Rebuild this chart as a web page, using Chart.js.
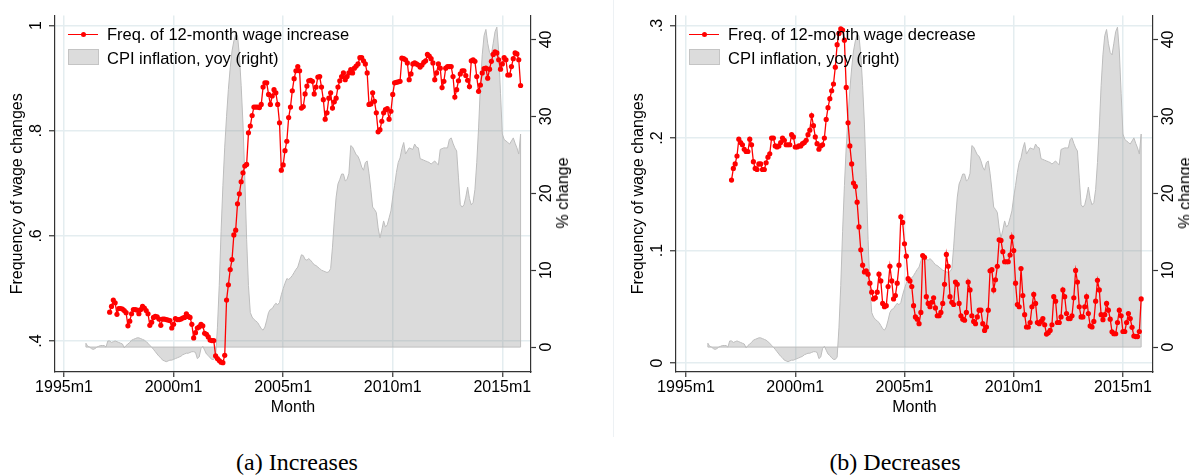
<!DOCTYPE html>
<html>
<head>
<meta charset="utf-8">
<script src="https://cdn.jsdelivr.net/npm/chart.js@4.4.1/dist/chart.umd.min.js"></script>
<style>
  html, body { margin: 0; padding: 0; background: #fff; overflow: hidden; width: 1189px; height: 475px; }
  canvas { position: absolute; top: 0; }
  #chartA { left: 0; }
  #chartB { left: 621px; }
  .legend { position: absolute; font: 16.5px "Liberation Sans", Arial, sans-serif; color: #000; white-space: nowrap; }
  .lg-line { position: absolute; height: 1.3px; width: 30px; background: #ff0000; }
  .lg-line::after { content: ""; position: absolute; left: 12.5px; top: -2px; width: 5px; height: 5px; border-radius: 50%; background: #ff0000; }
  .lg-box { position: absolute; width: 29px; height: 14px; background: #dcdcdc; border: 1px solid #c4c4c4; }
  .lg-text { position: absolute; transform: translateY(-50%); }
  .ytitle { position: absolute; font: 16px "Liberation Sans", Arial, sans-serif; color: #000; white-space: nowrap; transform: translate(-50%, -50%) rotate(-90deg); }
  .caption { position: absolute; top: 462px; transform: translate(-50%, -50%); font: 24px "Liberation Serif", "Times New Roman", serif; color: #000; white-space: nowrap; }
  .divider { position: absolute; left: 613px; top: 0; width: 1px; height: 437px; background: #edf1f4; }
</style>
</head>
<body>
<div class="divider"></div>
<canvas id="chartA" width="600" height="430"></canvas>
<canvas id="chartB" width="568" height="430"></canvas>
<div id="legendA" class="legend"></div>
<div id="legendB" class="legend"></div>
<div class="ytitle" style="left:563px; top:193px;">% change</div>
<div class="ytitle" style="left:1185px; top:193px;">% change</div>
<div class="caption" style="left:297px;">(a) Increases</div>
<div class="caption" style="left:895px;">(b) Decreases</div>

<script>
// ---- data (monthly) ----
const xTickLabels = ['1995m1', '2000m1', '2005m1', '2010m1', '2015m1'];

const cpiStart = '1996m1';
const cpiInflation = [
  0.5, 0.1, 0.0, -0.2, -0.3, -0.2, 0.0, 0.1, 0.2, 0.2, 0.2, 0.0,
  0.8, 0.8, 0.6, 0.7, 0.8, 0.7, 0.6, 0.5, 0.4, -0.1, 0.2, 0.4,
  0.6, 0.9, 1.0, 1.1, 1.2, 1.2, 1.1, 1.0, 0.9, 0.7, 0.5, 0.2,
  0.0, -0.3, -0.6, -0.9, -1.2, -1.4, -1.7, -1.8, -1.9, -1.8, -1.7, -1.7,
  -1.6, -1.5, -1.4, -1.3, -1.2, -1.0, -0.9, -0.8, -0.8, -0.7, -0.6, -0.6,
  -0.7, -1.5, -1.3, -0.2, 0.1, -0.4, -0.9, -1.1, -1.4, -1.6, -1.6, -1.3,
  2.5, 8, 15, 21, 26, 30, 33.5, 36.3, 38.5, 39.8, 40.6, 40.5,
  38, 34, 29, 22, 14, 8, 4.5, 3.9, 3.6, 3.4, 3.2, 2.8,
  2.4, 2.2, 2.6, 3.5, 4.5, 4.9, 5.0, 5.4, 5.7, 5.5, 5.8, 6.8,
  7.6, 8.3, 8.9, 8.8, 9.0, 9.3, 9.7, 10.1, 10.4, 11.2, 12.0, 11.9,
  11.4, 11.3, 11.5, 11.3, 11.0, 10.7, 10.6, 10.4, 10.2, 10.0, 9.9, 9.8,
  9.7, 9.8, 10.2, 13.0, 16.5, 19.5, 21.2, 21.8, 22.5, 22.5, 21.6, 21.8,
  22.6, 26.2, 26.0, 25.5, 25.0, 24.8, 24.2, 23.4, 23.0, 24.0, 24.2, 22.6,
  20.5, 18.2, 17.9, 17.5, 15.5, 14.2, 15.2, 16.4, 15.6, 15.9, 16.8, 17.7,
  19.5, 21.0, 22.7, 24.0, 24.6, 25.8, 26.6, 25.1, 25.5, 25.9, 25.8, 25.7,
  26.4, 26.0, 25.9, 24.5, 24.4, 24.3, 24.2, 24.1, 24.0, 23.8, 24.0, 24.2,
  23.9, 23.7, 25.7, 25.8, 25.9, 25.9, 25.9, 27.0, 27.2, 26.5, 25.9, 25.5,
  22.0, 18.5, 18.2, 18.5, 19.5, 20.8, 19.3, 18.5, 18.8, 20.5, 24.0, 28.5,
  34.0, 38.0, 40.5, 41.3, 39.5, 38.3, 38.0, 39.5, 41.0, 41.6, 38.5, 33.0,
  27.7, 27.0, 26.8, 26.6, 26.4, 26.8, 27.2, 26.5, 25.9, 25.1, 27.7
];

const wageStart = '1997m2';
const freqIncrease = [
  .455, .466, .478, .473, .451, .462, .462, .461, .458, .454, .429,
  .438, .452, .460, .460, .459, .452, .460, .466, .463, .458, .452, .430,
  .436, .445, .447, .446, .442, .430, .442, .442, .441, .440, .439, .425,
  .432, .443, .441, .441, .442, .444, .445, .452, .447, .445, .432, .406,
  .416, .425, .427, .432, .429, .415, .413, .408, .402, .401, .401, .372,
  .367, .363, .360, .359, .373, .478, .507, .536, .555, .602, .611, .661,
  .680, .703, .720, .733, .736, .796, .809, .829, .845, .845, .845, .844,
  .850, .883, .891, .891, .869, .850, .866, .878, .872, .850, .815, .725,
  .735, .762, .780, .825, .845, .876, .899, .914, .922, .914, .843, .846,
  .870, .885, .895, .896, .894, .870, .883, .902, .903, .883, .859, .822,
  .834, .862, .872, .843, .855, .862, .883, .895, .903, .910, .897, .903,
  .910, .916, .910, .919, .923, .927, .939, .939, .933, .927, .910, .850,
  .851, .872, .856, .834, .798, .802, .818, .834, .840, .842, .822, .837,
  .869, .891, .892, .893, .894, .938, .937, .935, .929, .897, .908, .927,
  .929, .927, .925, .921, .925, .930, .933, .945, .942, .937, .929, .897,
  .910, .927, .919, .882, .894, .919, .922, .922, .922, .903, .864, .878,
  .895, .908, .914, .914, .905, .896, .884, .933, .935, .932, .903, .875,
  .887, .910, .918, .919, .900, .917, .932, .945, .950, .948, .935, .917,
  .927, .939, .935, .906, .906, .922, .937, .948, .946, .935, .886
];

const freqDecrease = [
  .1626, .173, .177, .184, .199, .196, .194, .190, .188, .188, .199,
  .194, .179, .173, .172, .177, .177, .172, .172, .178, .183, .186, .200,
  .200, .193, .192, .193, .196, .200, .198, .194, .194, .194, .203, .201,
  .192, .192, .193, .193, .195, .196, .198, .203, .207, .220, .211, .201,
  .195, .190, .193, .194, .200, .2165, .227, .235, .242, .248, .263, .283,
  .293, .297, .296, .287, .245, .2135, .193, .177, .160, .157, .143, .121,
  .1006, .087, .081, .082, .079, .071, .063, .057, .058, .063, .079, .073,
  .053, .050, .051, .068, .086, .073, .057, .060, .071, .087, .130, .125,
  .106, .095, .075, .073, .068, .051, .041, .039, .035, .045, .0955, .094,
  .059, .053, .050, .054, .058, .049, .042, .042, .045, .053, .070, .0965,
  .086, .059, .054, .052, .072, .070, .053, .042, .039, .038, .045, .072,
  .065, .042, .037, .035, .041, .047, .047, .035, .029, .032, .047, .082,
  .083, .065, .074, .086, .1095, .109, .099, .090, .090, .090, .096, .112,
  .100, .071, .052, .050, .084, .060, .043, .032, .032, .036, .050, .061,
  .053, .036, .035, .037, .0395, .034, .0257, .027, .029, .034, .059, .055,
  .036, .036, .041, .065, .059, .044, .0395, .0395, .042, .058, .0823, .072,
  .050, .041, .041, .050, .059, .044, .033, .032, .037, .055, .0735, .065,
  .043, .0385, .043, .053, .047, .039, .0277, .026, .026, .036, .047, .042,
  .028, .028, .036, .044, .0395, .0317, .024, .0235, .0235, .028, .057
];

const cpiTicks = [0, 10, 20, 30, 40];
const incTicks = [0.4, 0.6, 0.8, 1];
const incTickLabels = ['.4', '.6', '.8', '1'];
const decTicks = [0, 0.1, 0.2, 0.3];
const decTickLabels = ['0', '.1', '.2', '.3'];

// Stata style monthly date: months since 1960m1
function tm(s) {
  const parts = s.split('m').map(Number);
  return (parts[0] - 1960) * 12 + parts[1] - 1;
}
function toPoints(start, values) {
  const t0 = tm(start);
  return values.map((v, i) => ({ x: t0 + i, y: v }));
}

const FONT = '"Liberation Sans", Arial, sans-serif';
const AXIS = '#333333';
const GRID = '#e4edf0';
const xTickVals = xTickLabels.map(tm);

// close the outline of the area along its zero base, like Stata does
const areaOutline = {
  id: 'areaOutline',
  afterDatasetDraw(chart, args) {
    if (args.index !== 1) return;
    const pts = args.meta.data;
    if (!pts.length) return;
    const base = chart.scales.y1.getPixelForValue(0);
    const first = pts[0], last = pts[pts.length - 1];
    const ctx = chart.ctx;
    ctx.save();
    ctx.strokeStyle = '#bdbdbd';
    ctx.lineWidth = 1;
    ctx.beginPath();
    ctx.moveTo(last.x, last.y);
    ctx.lineTo(last.x, base);
    ctx.lineTo(first.x, base);
    ctx.lineTo(first.x, first.y);
    ctx.stroke();
    ctx.restore();
  }
};

function makeChart(id, o) {
  return new Chart(document.getElementById(id), {
    type: 'line',
    data: {
      datasets: [
        {
          label: o.wageLabel,
          data: toPoints(wageStart, o.wage),
          yAxisID: 'y',
          borderColor: '#ff0000',
          borderWidth: 1.3,
          pointRadius: 2.6,
          pointBackgroundColor: '#ff0000',
          pointBorderWidth: 0,
          fill: false,
          order: 1
        },
        {
          label: 'CPI inflation, yoy (right)',
          data: toPoints(cpiStart, cpiInflation),
          yAxisID: 'y1',
          borderColor: '#bdbdbd',
          borderWidth: 1,
          backgroundColor: 'rgba(140,140,140,0.31)',
          pointRadius: 0,
          fill: 'origin',
          order: 2
        }
      ]
    },
    plugins: [areaOutline],
    options: {
      responsive: false,
      devicePixelRatio: 1,
      animation: false,
      layout: { padding: { top: 14, left: 0, right: 0, bottom: 0 } },
      plugins: { legend: { display: false }, tooltip: { enabled: false } },
      scales: {
        x: {
          type: 'linear',
          min: o.xMin,
          max: o.xMax,
          afterFit: s => { s.height = 58; },
          afterBuildTicks: s => { s.ticks = xTickVals.map(v => ({ value: v })); },
          ticks: {
            callback: v => xTickLabels[xTickVals.indexOf(v)],
            font: { family: FONT, size: 16 },
            color: '#000',
            padding: 1,
            minRotation: 0,
            maxRotation: 0,
            autoSkip: false
          },
          grid: { color: GRID, lineWidth: 1.5, tickColor: AXIS, tickLength: 5, tickWidth: 1.2 },
          border: { color: AXIS, width: 1.2 },
          title: { display: true, text: 'Month', color: '#000', font: { family: FONT, size: 16 }, padding: { top: 0, bottom: 13 } }
        },
        y: {
          position: 'left',
          min: o.yMin,
          max: o.yMax,
          afterFit: s => { s.width = 55; },
          afterBuildTicks: s => { s.ticks = o.yTicks.map(v => ({ value: v })); },
          ticks: {
            callback: v => o.yTickLabels[o.yTicks.indexOf(v)],
            font: { family: FONT, size: 16 },
            color: '#000',
            minRotation: 90,
            maxRotation: 90,
            crossAlign: 'center',
            padding: 6
          },
          grid: { color: GRID, lineWidth: 1.5, tickColor: AXIS, tickLength: 6, tickWidth: 1.2 },
          border: { color: AXIS, width: 1.2 },
          title: { display: true, text: 'Frequency of wage changes', color: '#000', font: { family: FONT, size: 16 }, padding: { top: 8, bottom: 0 } }
        },
        y1: {
          position: 'right',
          min: -3.24,
          max: 43.1,
          afterFit: s => { s.width = o.rightWidth; },
          afterBuildTicks: s => { s.ticks = cpiTicks.map(v => ({ value: v })); },
          ticks: {
            callback: v => String(v),
            font: { family: FONT, size: 16 },
            color: '#000',
            minRotation: 90,
            maxRotation: 90,
            crossAlign: 'center',
            padding: 2
          },
          grid: { drawOnChartArea: false, tickColor: AXIS, tickLength: 5, tickWidth: 1.2 },
          border: { color: AXIS, width: 1.2 }
        }
      }
    }
  });
}

makeChart('chartA', {
  wage: freqIncrease, wageLabel: 'Freq. of 12-month wage increase',
  yMin: 0.3413, yMax: 1.0189, yTicks: incTicks, yTickLabels: incTickLabels,
  xMin: 415.07, xMax: 675.7, rightWidth: 69
});
makeChart('chartB', {
  wage: freqDecrease, wageLabel: 'Freq. of 12-month wage decrease',
  yMin: -0.008, yMax: 0.3088, yTicks: decTicks, yTickLabels: decTickLabels,
  xMin: 414.5, xMax: 676.5, rightWidth: 36
});

// legends inside the plot, top left
function buildLegend(id, left, wageText) {
  const el = document.getElementById(id);
  el.style.left = left + 'px';
  el.style.top = '0px';
  el.innerHTML =
    '<div class="lg-line" style="left:0;top:33.5px"></div>' +
    '<div class="lg-text" style="left:39px;top:34px">' + wageText + '</div>' +
    '<div class="lg-box" style="left:0;top:49px"></div>' +
    '<div class="lg-text" style="left:39px;top:58px">CPI inflation, yoy (right)</div>';
}
buildLegend('legendA', 68, 'Freq. of 12-month wage increase');
buildLegend('legendB', 689, 'Freq. of 12-month wage decrease');
</script>
</body>
</html>
